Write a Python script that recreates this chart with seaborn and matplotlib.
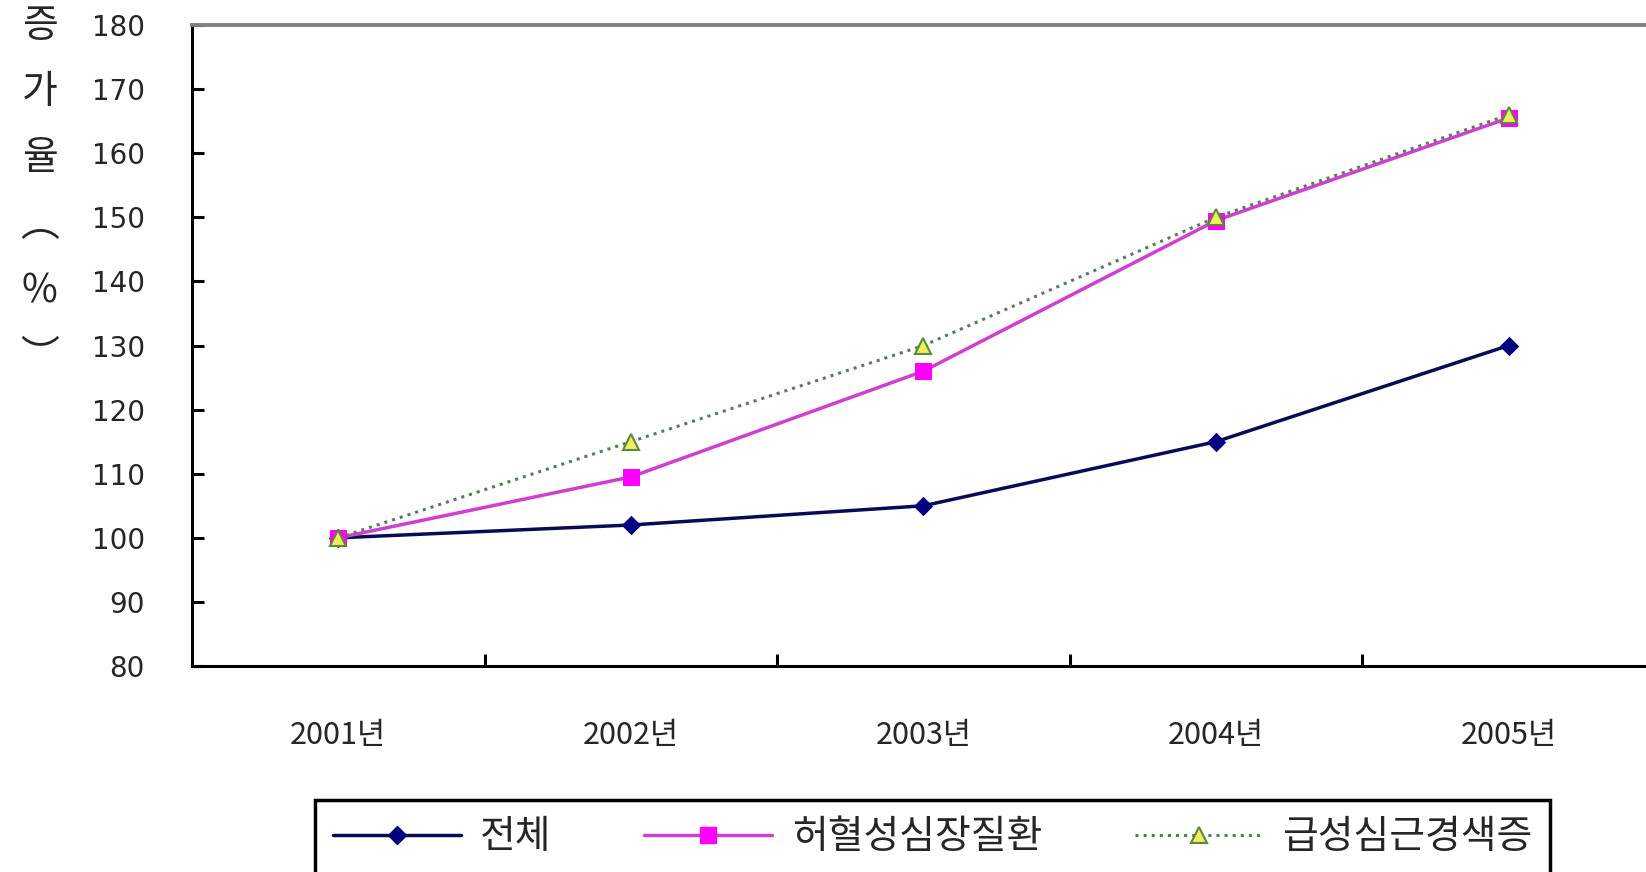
import matplotlib
matplotlib.use("Agg")
import matplotlib.pyplot as plt
from matplotlib.lines import Line2D
import seaborn as sns
import pandas as pd

# 연도별 증가율 (2001년 = 100)
years = ["2001년", "2002년", "2003년", "2004년", "2005년"]
total = [100, 102, 105, 115, 130]
ischemic = [100, 109.5, 126, 149.5, 165.5]
acute_mi = [100, 115, 130, 150, 166]

series_names = ["전체", "허혈성심장질환", "급성심근경색증"]
y_ticks = [80, 90, 100, 110, 120, 130, 140, 150, 160, 170, 180]

sns.set_style("white")
plt.rcParams["font.family"] = ["Noto Sans CJK KR", "DejaVu Sans"]

fig = plt.figure(figsize=(16.46, 8.72), dpi=100)
ax = fig.add_axes([0.1166, 0.2362, 0.8888, 0.7351])

styles = [
    dict(color="#0a0a55", linestyle="-", linewidth=2.5, marker="D", markersize=9,
         markerfacecolor="#000080", markeredgecolor="#000080"),
    dict(color="#d040d0", linestyle="-", linewidth=2.5, marker="s", markersize=11,
         markerfacecolor="#ff00ff", markeredgecolor="#ff00ff"),
    dict(color="#5b7a5b", linestyle=":", linewidth=2.2, marker="^", markersize=12,
         markerfacecolor="#eef060", markeredgecolor="#5a8a3a", markeredgewidth=1.5),
]

df = pd.DataFrame({"연도": years, series_names[0]: total,
                   series_names[1]: ischemic, series_names[2]: acute_mi})

for name, st in zip(series_names, styles):
    sns.lineplot(data=df, x="연도", y=name, ax=ax, sort=False, legend=False, **st)

ax.set_xlim(-0.5, 4.5)
ax.set_ylim(80, 180)
ax.set_yticks(y_ticks)
ax.set_yticklabels([str(v) for v in y_ticks], fontfamily="DejaVu Sans", fontsize=20)

# category boundaries carry the tick marks, centres carry the labels
ax.set_xticks([i + 0.5 for i in range(len(years) - 1)])
ax.set_xticklabels([""] * (len(years) - 1))
ax.set_xticks(range(len(years)), minor=True)
ax.set_xticklabels(years, minor=True, fontsize=22)
ax.set_xlabel("")

ax.tick_params(axis="both", which="major", direction="in", length=8.5, width=2.2,
               color="black", bottom=True, left=True)
ax.tick_params(axis="y", pad=34)
ax.tick_params(axis="x", which="minor", bottom=True, length=0, pad=39)

for side in ["left", "bottom"]:
    ax.spines[side].set_color("black")
    ax.spines[side].set_linewidth(2.2)
ax.spines["top"].set_color("#808080")
ax.spines["top"].set_linewidth(2.8)
ax.spines["right"].set_visible(False)

ax.set_ylabel("증\n가\n율\n︵\n%\n︶", rotation=0, fontsize=28, linespacing=1.85,
              va="top", ha="center")
ax.yaxis.set_label_coords(-0.104, 1.03)

handles = [Line2D([0], [0], **st) for st in styles]
leg = fig.legend(handles, series_names, loc="upper left",
                 bbox_to_anchor=(0.1914, 0.0, 0.7503, 0.0826), mode="expand",
                 borderaxespad=0, ncol=3, fontsize=28,
                 handlelength=3.3, handletextpad=0.5, columnspacing=1.0,
                 frameon=True, fancybox=False, framealpha=1, borderpad=0.45,
                 numpoints=1)
leg.get_frame().set_edgecolor("black")
leg.get_frame().set_linewidth(2.5)

fig.savefig("out.png", dpi=100, facecolor="white")
